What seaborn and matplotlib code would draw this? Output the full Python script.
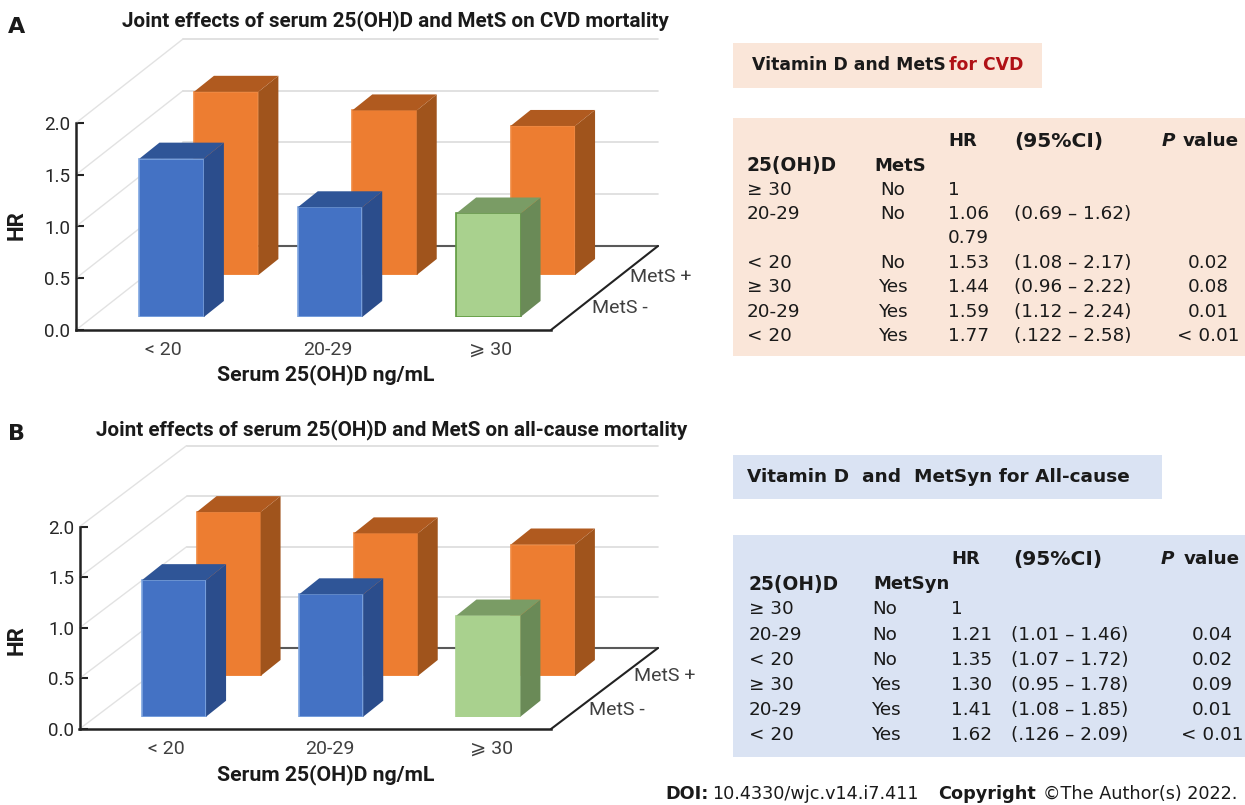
import matplotlib
matplotlib.use('Agg')
import matplotlib.pyplot as plt
from matplotlib.patches import Polygon, Rectangle
import seaborn as sns

W, H = 1245, 805

categories = ['< 20', '20-29', '≥ 30']
tick_labels = ['< 20', '20-29', '⩾ 30']
ticks_y = [0.0, 0.5, 1.0, 1.5, 2.0]

cvd_mets_no = [1.53, 1.06, 1.0]
cvd_mets_yes = [1.77, 1.59, 1.44]
all_mets_no = [1.35, 1.21, 1.0]
all_mets_yes = [1.62, 1.41, 1.30]

table_a = [
    ['≥ 30', 'No', '1', '', ''],
    ['20-29', 'No', '1.06', '(0.69 – 1.62)', ''],
    ['', '', '0.79', '', ''],
    ['< 20', 'No', '1.53', '(1.08 – 2.17)', '0.02'],
    ['≥ 30', 'Yes', '1.44', '(0.96 – 2.22)', '0.08'],
    ['20-29', 'Yes', '1.59', '(1.12 – 2.24)', '0.01'],
    ['< 20', 'Yes', '1.77', '(.122 – 2.58)', '< 0.01'],
]
table_b = [
    ['≥ 30', 'No', '1', '', ''],
    ['20-29', 'No', '1.21', '(1.01 – 1.46)', '0.04'],
    ['< 20', 'No', '1.35', '(1.07 – 1.72)', '0.02'],
    ['≥ 30', 'Yes', '1.30', '(0.95 – 1.78)', '0.09'],
    ['20-29', 'Yes', '1.41', '(1.08 – 1.85)', '0.01'],
    ['< 20', 'Yes', '1.62', '(.126 – 2.09)', '< 0.01'],
]

front_face = ['#4472c4', '#4472c4', '#a9d18e']
front_side = ['#2b4d8c', '#2b4d8c', '#6a8a57']
front_top = ['#2f5597', '#2f5597', '#7a9c65']
back_face = ['#ed7d31'] * 3
back_side = ['#a0541c'] * 3
back_top = ['#b05a1f'] * 3

sns.set_theme(style='white')
plt.rcParams['font.family'] = ['DejaVu Sans']
CHART_FONT = ['Roboto', 'DejaVu Sans']

fig = plt.figure(figsize=(W / 100, H / 100), dpi=100)


def px(x, y):
    return x / W, 1 - y / H


def put(x, y, s, **kw):
    kw.setdefault('va', 'center')
    kw.setdefault('color', '#1a1a1a')
    return fig.text(*px(x, y), s, **kw)


def add_axes(left, right, y0, y2):
    return fig.add_axes([left / W, 1 - y0 / H, (right - left) / W, (y0 - y2) / H])


def draw_row(left, right, y0, y2, values, face, side, top, edge, dx, dy):
    ax = add_axes(left, right, y0, y2)
    sns.barplot(x=categories, y=values, hue=categories, order=categories, hue_order=categories,
                palette=face, saturation=1, width=0.407, legend=False, ax=ax)
    ax.set_xlim(-0.5, 2.5)
    ax.set_ylim(0, 2)
    ax.axis('off')
    # fake the depth of each bar from its own rectangle
    for bar, s, t, e in zip(ax.patches, side, top, edge):
        bar.set_edgecolor(e)
        bar.set_linewidth(1.2)
        x0, x1, h = bar.get_x(), bar.get_x() + bar.get_width(), bar.get_height()
        ax.add_patch(Polygon([(x1, 0), (x1 + dx, dy), (x1 + dx, h + dy), (x1, h)],
                             facecolor=s, edgecolor='none', clip_on=False))
        ax.add_patch(Polygon([(x0, h), (x0 + dx, h + dy), (x1 + dx, h + dy), (x1, h)],
                             facecolor=t, edgecolor='none', clip_on=False))
    return ax


def draw_panel(left, right, y0, y2, wall_dx, wall_dy, front, back, row1, row2, edge1, title,
               title_x, title_y, xlabel_y, hr_y, plus_xy, minus_xy):
    band = (right - left) / 3
    unit = (y0 - y2) / 2
    ax = add_axes(left, right, y0, y2)
    ax.set_xlim(-0.5, 2.5)
    ax.set_ylim(0, 2)
    ddx, ddy = wall_dx / band, wall_dy / unit
    for y in ticks_y:
        ax.plot([-0.5, -0.5 + ddx], [y, y + ddy], color='#e2e2e2', lw=1, clip_on=False)
        ax.plot([-0.5 + ddx, 2.5 + ddx], [y + ddy, y + ddy],
                color='#595959' if y == 0 else '#dcdcdc', lw=1.5 if y == 0 else 1.2, clip_on=False)
    ax.plot([2.5, 2.5 + ddx], [0, ddy], color='#222222', lw=1.5, clip_on=False)
    ax.set_xticks([0.05, 1.09, 2.12], tick_labels, family=CHART_FONT, fontsize=14, color='#404040')
    ax.set_yticks(ticks_y, [f'{v:.1f}' for v in ticks_y], family=CHART_FONT, fontsize=13.5, color='#262626')
    ax.tick_params(axis='x', length=0, pad=8)
    ax.tick_params(axis='y', direction='in', length=6, width=1.5, color='#222222', left=True, pad=4)
    sns.despine(ax=ax)
    for s in ['left', 'bottom']:
        ax.spines[s].set_color('#222222')
        ax.spines[s].set_linewidth(1.8)

    side_dx, side_dy = 20 / band, 16 / unit
    draw_row(left + back[0], right + back[0], y0 - back[1], y2 - back[1], row2, back_face, back_side,
             back_top, ['#f08a42'] * 3, side_dx, side_dy)
    draw_row(left + front[0], right + front[0], y0 - front[1], y2 - front[1], row1, front_face, front_side,
             front_top, edge1, side_dx, side_dy)

    put(title_x, title_y, title, family=CHART_FONT, fontweight='bold', fontsize=14.9, ha='left')
    put(326, xlabel_y, 'Serum 25(OH)D ng/mL', family=CHART_FONT, fontweight='bold', fontsize=15.3, ha='center')
    put(17, hr_y, 'HR', family=CHART_FONT, fontweight='bold', fontsize=16, ha='center', rotation=90)
    put(*plus_xy, 'MetS +', family=CHART_FONT, fontsize=14, ha='left', color='#404040')
    put(*minus_xy, 'MetS -', family=CHART_FONT, fontsize=14, ha='left', color='#404040')


def draw_table(box, rows, head_col2, ys, xs, fill):
    x0, y0, x1, y1 = box
    fig.add_artist(Rectangle(px(x0, y1), (x1 - x0) / W, (y1 - y0) / H, transform=fig.transFigure,
                             facecolor=fill, edgecolor='none', zorder=-1))
    hr_x, ci_x, p_x, p_right = xs['hr'], xs['ci'], xs['p'], xs['p_right']
    put(hr_x, ys[0], 'HR', fontweight='bold', fontsize=13)
    put(xs['ci_head'], ys[0], '(95%CI)', fontweight='bold', fontsize=14.6)
    put(p_right, ys[0], 'value', fontweight='bold', fontsize=13.2, ha='right')
    put(xs['p_i'], ys[0], 'P', fontweight='bold', fontstyle='italic', fontsize=13.2)
    put(xs['c1'], ys[1], '25(OH)D', fontweight='bold', fontsize=13.4)
    put(xs['c2'], ys[1], head_col2, fontweight='bold', fontsize=13)
    for row, y in zip(rows, ys[2:]):
        put(xs['c1'], y, row[0], fontsize=13.2)
        put(xs['no'] if row[1] == 'No' else xs['yes'], y, row[1], fontsize=13.2)
        put(hr_x, y, row[2], fontsize=13.2)
        put(ci_x, y, row[3], fontsize=13.2)
        put(p_x, y, row[4], fontsize=13.2, ha='center')


draw_panel(76, 551, 330, 123, 107, 84, (16.5, 13), (71, 55), cvd_mets_no, cvd_mets_yes,
           ['#7fa6e0', '#7fa6e0', '#5f9a3f'],
           'Joint effects of serum 25(OH)D and MetS on CVD mortality', 122, 21, 375, 225,
           (630, 277), (592, 308))
draw_panel(79.5, 551, 729, 526.7, 107, 81, (16, 12.3), (70.5, 53), all_mets_no, all_mets_yes,
           ['#7fa6e0', '#7fa6e0', '#a9d18e'],
           'Joint effects of serum 25(OH)D and MetS on all-cause mortality', 96, 430, 775, 640,
           (634, 676), (589, 710))

put(8, 27, 'A', fontweight='bold', fontsize=16)
put(8, 434, 'B', fontweight='bold', fontsize=16)

peach = '#fae6d9'
blue = '#dae3f3'
fig.add_artist(Rectangle(px(733, 88), 309 / W, 45 / H, transform=fig.transFigure, facecolor=peach,
                         edgecolor='none', zorder=-1))
put(752, 65, 'Vitamin D and MetS', fontweight='bold', fontsize=12.4)
put(949, 65, 'for CVD', fontweight='bold', fontsize=12.4, color='#b01116')
draw_table((733, 118, 1245, 356), table_a, 'MetS', [141, 166, 190, 214, 238, 263, 287, 312, 336],
           dict(c1=747, c2=874, no=880, yes=879, hr=948, ci=1014, ci_head=1014, p=1208, p_right=1239, p_i=1162),
           peach)

fig.add_artist(Rectangle(px(733, 499), 429 / W, 44 / H, transform=fig.transFigure, facecolor=blue,
                         edgecolor='none', zorder=-1))
put(747, 477, 'Vitamin D  and  MetSyn for All-cause', fontweight='bold', fontsize=13.3)
draw_table((733, 535, 1245, 757), table_b, 'MetSyn', [559, 584, 609, 635, 660, 685, 710, 735],
           dict(c1=749, c2=873, no=872, yes=872, hr=951, ci=1011, ci_head=1013, p=1212, p_right=1240, p_i=1161),
           blue)

put(665, 794, 'DOI:', fontweight='bold', fontsize=12.7)
put(712, 794, '10.4330/wjc.v14.i7.411', fontsize=12.7)
put(938, 794, 'Copyright', fontweight='bold', fontsize=12.7)
put(1043, 794, '©The Author(s) 2022.', fontsize=12.7)

fig.savefig('out.png', dpi=100)
